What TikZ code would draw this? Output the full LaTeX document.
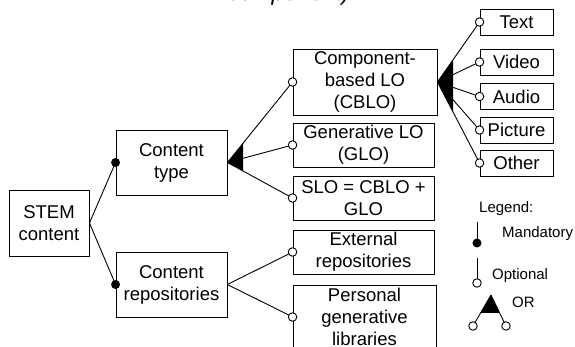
\documentclass[tikz,border=0pt]{standalone}
\usepackage{fontspec}
\setmainfont{Liberation Sans}
\usetikzlibrary{calc}
\begin{document}
\begin{tikzpicture}[x=1pt,y=-1pt,
  box/.style={draw, line width=0.9pt, align=center, inner sep=0pt, font=\fontsize{18.5}{22}\selectfont},
  ln/.style={line width=0.9pt},
  optc/.style={circle, draw, fill=white, line width=0.9pt, minimum size=8.5pt, inner sep=0pt},
  mandc/.style={circle, fill=black, minimum size=9pt, inner sep=0pt},
  lgd/.style={font=\fontsize{15}{18}\selectfont, anchor=base west, inner sep=0pt}]
\useasboundingbox (0,0) rectangle (575,347);
\clip (0,0) rectangle (575,347);
\fill[white] (0,0) rectangle (575,347);

% title fragment
\node[anchor=base west, inner sep=0pt, font=\fontsize{23}{27}\selectfont\itshape] (ttl) at (228,0.5) {component)};

% boxes
\node[box, minimum width=80pt, minimum height=66pt] (stem) at (49,223) {STEM\\content};
\node[box, minimum width=111pt, minimum height=65pt] (ctype) at (171.5,162.5) {Content\\type};
\node[box, minimum width=111pt, minimum height=65pt] (crepo) at (171.5,284.5) {Content\\repositories};
\node[box, minimum width=144pt, minimum height=66pt] (cblo) at (365,82) {Component-\\based LO\\(CBLO)};
\node[box, minimum width=141pt, minimum height=44pt] (glo) at (363.5,145) {Generative LO\\(GLO)};
\node[box, minimum width=141pt, minimum height=44pt] (slo) at (363.5,198) {SLO = CBLO +\\GLO};
\node[box, minimum width=141pt, minimum height=44pt] (ext) at (363.5,252) {External\\repositories};
\node[box, minimum width=143pt, minimum height=64pt] (pers) at (364.5,317) {Personal\\generative\\libraries};
\node[box, minimum width=73pt, minimum height=26pt] (text) at (516.5,22) {Text};
\node[box, minimum width=73pt, minimum height=26pt] (video) at (516.5,62) {Video};
\node[box, minimum width=73pt, minimum height=26pt] (audio) at (516.5,96.5) {Audio};
\node[box, minimum width=73pt, minimum height=26pt] (pict) at (516.5,130) {Picture};
\node[box, minimum width=73pt, minimum height=26pt] (other) at (516.5,163) {Other};

% connectors
\draw[ln] (stem.east) -- (ctype.west);
\draw[ln] (stem.east) -- (crepo.west);
\foreach \t in {cblo,glo,slo} \draw[ln] (ctype.east) -- (\t.west);
\foreach \t in {ext,pers} \draw[ln] (crepo.east) -- (\t.west);
\foreach \t in {text,video,audio,pict,other} \draw[ln] (cblo.east) -- (\t.west);

% OR wedges
\fill (ctype.east) -- ($(ctype.east)!0.24!(cblo.west)$) -- ($(ctype.east)!0.24!(slo.west)$) -- cycle;
\fill (cblo.east) -- ($(cblo.east)!0.37!(text.west)$) -- ($(cblo.east)!0.37!(other.west)$) -- cycle;

% end markers
\node[mandc] (d1) at (ctype.west) {};
\node[mandc] (d2) at (crepo.west) {};
\foreach \t in {cblo,glo,slo,ext,pers,text,video,audio,pict,other} \node[optc] (c\t) at (\t.west) {};

% legend
\node[lgd] (leg) at (479,213) {Legend:};
\coordinate (m1) at (477,222); \coordinate (m2) at (477,243);
\draw[ln] (m1) -- (m2);
\node[mandc] (md) at (m2) {};
\node[lgd] (lm) at (502,238) {Mandatory};
\coordinate (o1) at (477,258); \coordinate (o2) at (477,283);
\draw[ln] (o1) -- (o2);
\node[optc] (oc) at (o2) {};
\node[lgd] (lo) at (492,279) {Optional};
\coordinate (ra) at (491,295); \coordinate (rl) at (473,326); \coordinate (rr) at (506,326);
\draw[ln] (ra) -- (rl);
\draw[ln] (ra) -- (rr);
\fill (ra) -- ($(ra)!0.58!(rl)$) -- ($(ra)!0.58!(rr)$) -- cycle;
\node[optc] (rlc) at (rl) {};
\node[optc] (rrc) at (rr) {};
\node[lgd] (lor) at (512,307) {OR};
\end{tikzpicture}
\end{document}
